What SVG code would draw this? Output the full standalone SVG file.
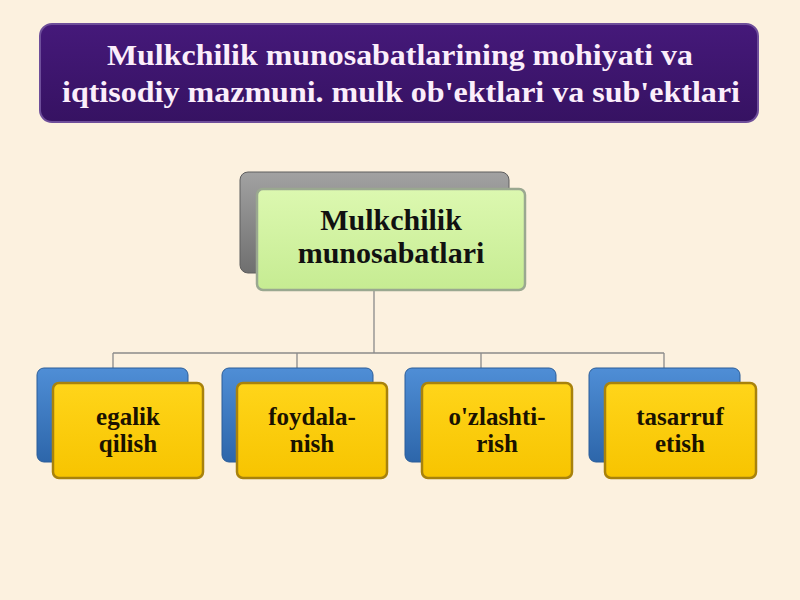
<svg xmlns="http://www.w3.org/2000/svg" width="800" height="600" viewBox="0 0 800 600">
<defs>
<linearGradient id="gPurple" x1="0" y1="0" x2="0" y2="1"><stop offset="0" stop-color="#45197a"/><stop offset="1" stop-color="#361262"/></linearGradient>
<linearGradient id="gGray" x1="0" y1="0" x2="0" y2="1"><stop offset="0" stop-color="#a2a2a2"/><stop offset="1" stop-color="#6f6f6f"/></linearGradient>
<linearGradient id="gGreen" x1="0" y1="0" x2="0" y2="1"><stop offset="0" stop-color="#dcf8b0"/><stop offset="1" stop-color="#c6ec92"/></linearGradient>
<linearGradient id="gBlue" x1="0" y1="0" x2="0" y2="1"><stop offset="0" stop-color="#4f8ed6"/><stop offset="1" stop-color="#2d66aa"/></linearGradient>
<linearGradient id="gYellow" x1="0" y1="0" x2="0" y2="1"><stop offset="0" stop-color="#ffd51a"/><stop offset="1" stop-color="#f7c400"/></linearGradient>
</defs>
<style>
.t{font-family:"Liberation Serif","Times New Roman",serif;font-weight:bold;text-anchor:middle}
.title{fill:#fbeefb;font-size:30px}
.main{fill:#111;font-size:30px}
.sub{fill:#1a1200;font-size:25px}
.back{fill:url(#gBlue);stroke:#2a5d99;stroke-width:1}
.front{fill:url(#gYellow);stroke:#a8820c;stroke-width:2.5}
.conn{fill:none;stroke:#8a8a8a;stroke-width:1.3}
</style>
<rect x="0" y="0" width="800" height="600" fill="#fcf1df"/>
<g id="title">
<rect x="40" y="24" width="718" height="98" rx="12" fill="url(#gPurple)" stroke="#6e4e9a" stroke-width="2"/>
<text class="t title" x="400" y="65" textLength="586" lengthAdjust="spacingAndGlyphs">Mulkchilik munosabatlarining mohiyati va</text>
<text class="t title" x="401" y="102" textLength="678" lengthAdjust="spacingAndGlyphs">iqtisodiy mazmuni. mulk ob'ektlari va sub'ektlari</text>
</g>
<g id="connectors">
<path class="conn" d="M374 290 V353 M113 353 H664 M113 353 V368 M297 353 V368 M481 353 V368 M664 353 V368"/>
</g>
<g id="node-main">
<rect x="240" y="172" width="269" height="101" rx="8" fill="url(#gGray)" stroke="#5e5e5e" stroke-width="1"/>
<rect x="257" y="189" width="268" height="101" rx="6" fill="url(#gGreen)" stroke="#9aa890" stroke-width="2.5"/>
<text class="t main" x="391" y="230">Mulkchilik</text>
<text class="t main" x="391" y="263">munosabatlari</text>
</g>
<g id="node-egalik">
<rect class="back" x="37" y="368" width="151" height="94" rx="7"/>
<rect class="front" x="53" y="383" width="150" height="95" rx="6"/>
<text class="t sub" x="128" y="425">egalik</text>
<text class="t sub" x="128" y="452">qilish</text>
</g>
<g id="node-foydalanish">
<rect class="back" x="222" y="368" width="151" height="94" rx="7"/>
<rect class="front" x="237" y="383" width="150" height="95" rx="6"/>
<text class="t sub" x="312" y="425">foydala-</text>
<text class="t sub" x="312" y="452">nish</text>
</g>
<g id="node-ozlashtirish">
<rect class="back" x="405" y="368" width="151" height="94" rx="7"/>
<rect class="front" x="422" y="383" width="150" height="95" rx="6"/>
<text class="t sub" x="497" y="425">o'zlashti-</text>
<text class="t sub" x="497" y="452">rish</text>
</g>
<g id="node-tasarruf">
<rect class="back" x="589" y="368" width="151" height="94" rx="7"/>
<rect class="front" x="605" y="383" width="151" height="95" rx="6"/>
<text class="t sub" x="680" y="425">tasarruf</text>
<text class="t sub" x="680" y="452">etish</text>
</g>
</svg>
